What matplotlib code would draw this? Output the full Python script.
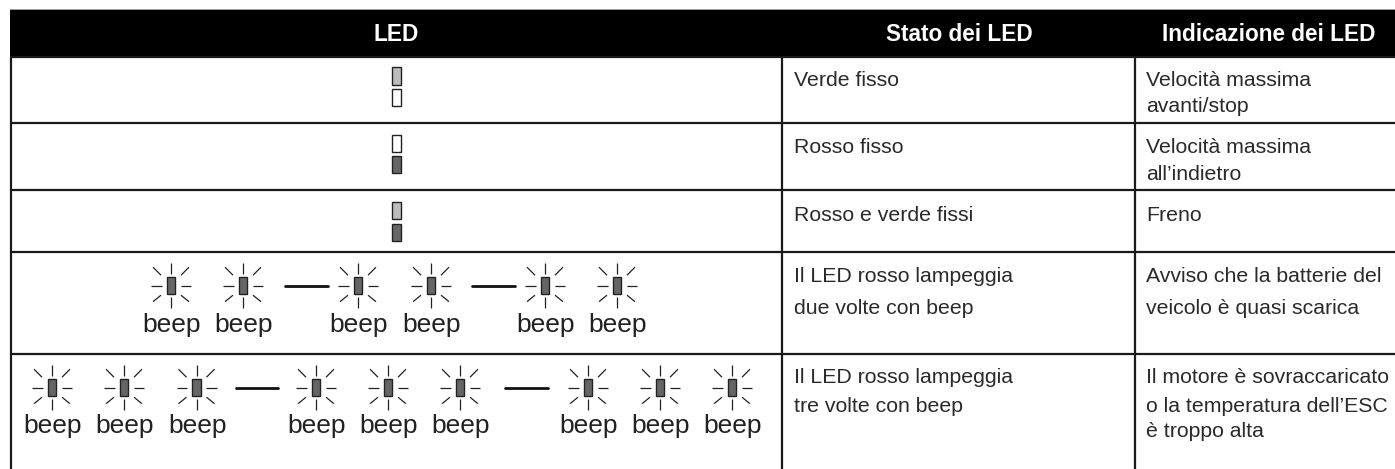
import matplotlib
matplotlib.use('Agg')
import matplotlib.pyplot as plt
from matplotlib.patches import Rectangle

FONT_BODY = ['Liberation Sans', 'DejaVu Sans']

headers = ['LED', 'Stato dei LED', 'Indicazione dei LED']
stato = [
    ['Verde fisso'],
    ['Rosso fisso'],
    ['Rosso e verde fissi'],
    ['Il LED rosso lampeggia', 'due volte con beep'],
    ['Il LED rosso lampeggia', 'tre volte con beep'],
]
indicazione = [
    ['Velocità massima', 'avanti/stop'],
    ['Velocità massima', 'all’indietro'],
    ['Freno'],
    ['Avviso che la batterie del', 'veicolo è quasi scarica'],
    ['Il motore è sovraccaricato', 'o la temperatura dell’ESC', 'è troppo alta'],
]
# quali led accesi in ogni riga fissa (sopra, sotto)
led_fissi = [('verde', None), (None, 'rosso'), ('verde', 'rosso')]

col_x = [11, 782, 1135]
row_y = [57, 123, 190, 252, 354]
GRIGIO = '#bdbdbd'
SCURO = '#666666'
LINEA = '#1a1a1a'

fig = plt.figure(figsize=(13.95, 4.69), dpi=100)
ax = fig.add_axes([0, 0, 1, 1])
ax.set_xlim(0, 1395)
ax.set_ylim(469, 0)
ax.axis('off')


def led(cx, y0, y1, colore):
    ax.add_patch(Rectangle((cx - 4.2, y0), 8.4, y1 - y0, facecolor=colore,
                           edgecolor='#222222', linewidth=1.0))


def lampeggio(cx, cy):
    led(cx, cy - 8.8, cy + 8.8, SCURO)
    raggi = [(0, -22.5, 0, -12), (0, 11, 0, 22.5), (-20, 0, -9.5, 0), (9.5, 0, 20, 0),
             (-18, -18.5, -10, -10.5), (10, -10.5, 18, -18.5),
             (-18, 16, -10, 9.5), (10, 9.5, 18, 16)]
    for x0, y0, x1, y1 in raggi:
        ax.plot([cx + x0, cx + x1], [cy + y0, cy + y1], color='#222222', lw=0.9,
                solid_capstyle='butt')


def riga_beep(gruppi, trattini, cy, base):
    for gruppo in gruppi:
        for cx in gruppo:
            lampeggio(cx, cy)
            ax.text(cx + 1, base, 'beep', family=['Liberation Sans', 'DejaVu Sans'],
                    fontsize=19, ha='center', va='baseline', color='#222222')
    for x0, x1 in trattini:
        ax.plot([x0, x1], [cy, cy], color='#111111', lw=2.0, solid_capstyle='round')


# intestazione
ax.add_patch(Rectangle((10, 10), 1385, 47, facecolor='black', edgecolor='none'))
ax.plot([10, 1395], [9.5, 9.5], color='#999999', lw=0.7)
for testo, cx in zip(headers, [396.5, 959.5, 1268.5]):
    ax.text(cx, 41, testo, family=['Liberation Sans', 'DejaVu Sans'], weight='bold',
            fontsize=16.3, ha='center', va='baseline', color='white')

# griglia
for y in row_y:
    ax.plot([10, 1395], [y, y], color=LINEA, lw=1.6, solid_capstyle='butt')
for x in col_x:
    ax.plot([x, x], [57, 469], color=LINEA, lw=1.6, solid_capstyle='butt')

# led fissi
led_y = [(67.5, 85, 89, 106), (135, 152, 156, 173), (202, 219, 224, 241)]
for (sopra, sotto), (a, b, c, d) in zip(led_fissi, led_y):
    led(396.5, a, b, GRIGIO if sopra else 'white')
    led(396.5, c, d, SCURO if sotto else 'white')

# led lampeggianti
riga_beep([[171, 243], [358, 431], [545, 617]], [(285, 328), (472, 515)], 285.7, 331.7)
riga_beep([[52, 124, 196.5], [316, 388, 460], [588, 660, 732]], [(236, 278), (505, 548)], 387.7, 433)

# testi delle celle
base_stato = [[86], [153], [220.7], [281.7, 314], [383, 411.7]]
base_ind = [[86, 112], [153, 180], [220.7], [281.7, 314], [383, 411.7, 436.7]]
for righe, basi, x in [(stato, base_stato, 794), (indicazione, base_ind, 1146)]:
    for testi, ys in zip(righe, basi):
        for testo, y in zip(testi, ys):
            ax.text(x, y, testo, family=FONT_BODY, fontsize=15.3, ha='left', va='baseline',
                    color='#2a2a2a')

fig.savefig('out.png', dpi=100)
